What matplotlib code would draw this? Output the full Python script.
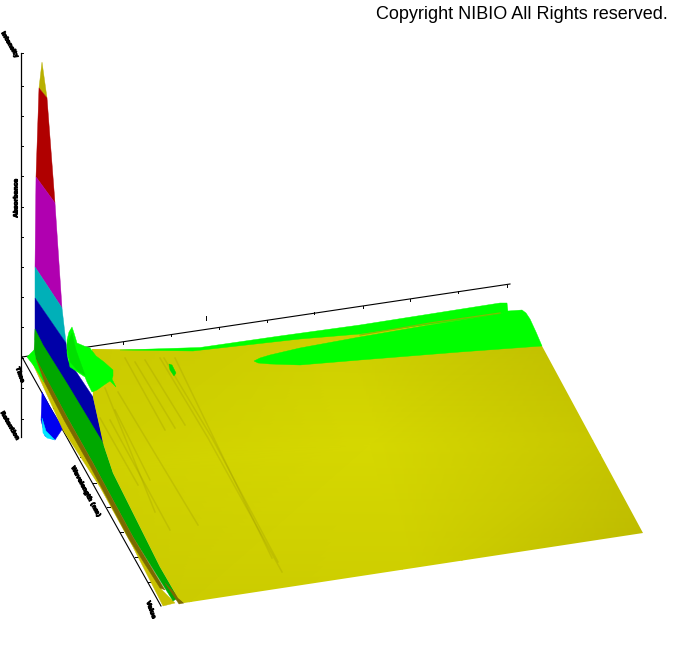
import matplotlib
matplotlib.use("Agg")
import matplotlib.pyplot as plt
import matplotlib.patheffects as pe
from matplotlib.colors import LinearSegmentedColormap
from matplotlib.patches import Polygon

# outlines, in picture pixels
olive_cap = [(42, 62), (39, 88), (47, 98)]
red_band = [(39, 88), (47, 98), (55, 203), (36, 177)]
magenta_band = [(36, 177), (55, 203), (62, 308), (35, 267)]
teal_band = [(35, 267), (62, 308), (66, 343), (35, 298)]
blue_band = [(35, 298), (66, 343), (68, 360), (77, 373), (93, 397), (104, 445), (35, 340)]
green_band = [(34, 352), (35, 329), (43, 345), (68, 385), (103, 443), (113, 473), (133, 513),
              (160, 567), (178, 598), (173, 601), (133, 537), (93, 463), (67, 417), (35, 358)]
brown_band = [(35, 357), (67, 417), (93, 463), (133, 537), (165, 590), (160, 588), (129, 539),
              (90, 466), (64, 420), (36, 366)]
brown_end = [(165, 583), (172, 590), (184, 603), (179, 604)]
low_yellow = [(36, 364), (64, 418), (90, 464), (129, 537), (162, 590), (175, 603), (163, 606),
              (133, 547), (100, 487), (63, 430), (43, 386), (32, 362)]
under_blue = [(42, 392), (41, 420), (45, 436), (55, 440), (63, 428), (50, 407)]
under_cyan = [(42, 418), (43, 433), (47, 438), (55, 440), (46, 431)]

surface_outline = [(92, 349), (193, 350), (300, 338), (360, 333), (430, 322), (500, 312), (542, 346),
                   (643, 533), (184, 603), (178, 598), (160, 567), (133, 513), (113, 473), (103, 443),
                   (93, 397)]
surface_x = [60, 320, 560, 80, 370, 620, 170, 410, 670]
surface_y = [300, 300, 300, 470, 445, 440, 620, 600, 560]
surface_shade = [0.55, 0.72, 0.25, 0.78, 1.00, 0.50, 0.62, 0.74, 0.15]
surface_tri = [[0, 1, 3], [1, 3, 4], [1, 2, 4], [2, 4, 5], [3, 4, 6], [4, 6, 7], [4, 5, 7], [5, 7, 8]]

green_band_top = [(120, 350), (200, 347.5), (280, 336), (360, 325), (430, 314), (500, 303), (507, 303),
                  (508, 312), (500, 314), (430, 324), (360, 334), (300, 339), (193, 351)]
green_ellipse = [(254, 361), (260, 358), (270, 355), (300, 348), (360, 337), (430, 325), (500, 314),
                 (508, 311), (522, 310), (526, 313), (530, 319), (536, 332), (542, 346), (460, 352),
                 (360, 360), (300, 365), (270, 364), (258, 363)]
olive_thread_x = [360, 430, 500]
olive_thread_y = [335, 323, 313]
green_blob = [(67, 340), (69, 332), (72, 327), (74, 333), (77, 343), (84, 346), (90, 348), (96, 356),
              (104, 362), (113, 370), (113, 376), (112, 379), (116, 387), (110, 381), (104, 385),
              (97, 390), (92, 392), (87, 382), (85, 377), (76, 371), (70, 367), (67, 353)]
green_ridge = [(67, 345), (72, 333), (76, 350), (85, 375), (78, 371), (70, 362)]
green_dot = [(169, 364), (172, 365), (176, 373), (174, 376), (170, 370)]
green_foot = [(27, 357), (34, 350), (36, 360), (44, 382), (34, 366)]

streaks_x = [[160, 208, 282], [164, 212, 278], [175, 238, 272], [105, 155], [118, 198],
             [100, 138], [135, 175], [125, 165], [145, 185], [110, 170], [115, 150]]
streaks_y = [[358, 438, 572], [358, 438, 562], [358, 488, 558], [388, 512], [392, 525],
             [418, 485], [362, 428], [358, 430], [360, 425], [420, 530], [410, 480]]

z_ticks = [53, 86, 116, 146, 176, 207, 237, 267, 297, 327, 358, 388, 419]
front_ticks_x = [42, 53, 67, 80, 93, 107, 120, 135, 148]
front_ticks_y = [383, 408, 433, 457, 483, 507, 532, 557, 582]
back_ticks_x = [123, 171, 219, 267, 314, 363, 410, 458, 507]
back_ticks_y = [342, 334, 327, 320, 312, 306, 299, 291, 285]

label_names = ["Intensity", "Absorbance", "Time", "Retention", "Wavelength (nm)", "Value"]
label_x = [10, 16, 20, 10, 86, 151]
label_y = [45, 198, 375, 426, 492, 610]
label_rot = [-60, 90, -70, -60, -62, -70]

fig = plt.figure(figsize=(6.74, 6.72), dpi=100)
ax = fig.add_axes([0, 0, 1, 1])
ax.set_xlim(0, 674)
ax.set_ylim(672, 0)
ax.axis("off")


def fill(points, colour, z):
    ax.add_patch(Polygon(points, closed=True, facecolor=colour, edgecolor=colour, linewidth=0.3, zorder=z))


# axes
ax.plot([20.5, 20.5], [53, 437], color="black", lw=0.9, zorder=1)
ax.plot([22, 161], [357, 606], color="black", lw=0.8, zorder=1)
ax.plot([22, 88, 510], [357, 347, 284], color="black", lw=0.8, zorder=1)
for y in z_ticks:
    ax.plot([20.5, 23], [y, y], color="black", lw=0.7, zorder=1)
for x, y in zip(front_ticks_x, front_ticks_y):
    ax.plot([x, x + 3], [y, y], color="black", lw=0.7, zorder=1)
for x, y in zip(back_ticks_x, back_ticks_y):
    ax.plot([x, x], [y, y + 2], color="black", lw=0.7, zorder=1)
ax.plot([205.5, 205.5], [316, 320], color="black", lw=0.7, zorder=1)

# peak bands
fill(under_blue, "#0000f0", 2)
fill(under_cyan, "#00e8ff", 3)
fill(olive_cap, "#b8b000", 4)
fill(red_band, "#b00000", 4)
fill(magenta_band, "#b000b0", 4)
fill(teal_band, "#00b0b8", 4)
fill(blue_band, "#0000a8", 4)
fill(low_yellow, "#c8c000", 5)
fill(green_band, "#00a800", 6)
fill(brown_band, "#7a6a00", 6)
fill(brown_end, "#7a6a00", 6)

# main surface, shaded
cmap = LinearSegmentedColormap.from_list("surface", ["#b6b200", "#d6d800"])
surf = ax.tripcolor(surface_x, surface_y, surface_tri, surface_shade, shading="gouraud",
                    cmap=cmap, vmin=0, vmax=1, zorder=7)
surf.set_clip_path(Polygon(surface_outline, closed=True, transform=ax.transData))

for xs, ys in zip(streaks_x, streaks_y):
    ax.plot(xs, ys, color="#8f8a00", lw=1.1, alpha=0.22, zorder=8)

fill(green_band_top, "#00ff00", 9)
fill(green_ellipse, "#00ff00", 9)
ax.plot(olive_thread_x, olive_thread_y, color="#7fbf00", lw=0.9, zorder=10)
fill(green_blob, "#00ff00", 9)
fill(green_ridge, "#00e000", 10)
fill(green_dot, "#00e000", 9)
fill(green_foot, "#00ff00", 9)

# axis labels, too small to read in the reference
for name, x, y, rot in zip(label_names, label_x, label_y, label_rot):
    ax.text(x, y, name, fontsize=4.2, fontweight="bold", rotation=rot, ha="center", va="center",
            path_effects=[pe.withStroke(linewidth=0.7, foreground="black")])

ax.text(668, 19, "Copyright NIBIO All Rights reserved.", family="Liberation Sans", fontsize=13.0,
        ha="right", va="baseline", color="black")

fig.savefig("out.png", dpi=100)
plt.close()
